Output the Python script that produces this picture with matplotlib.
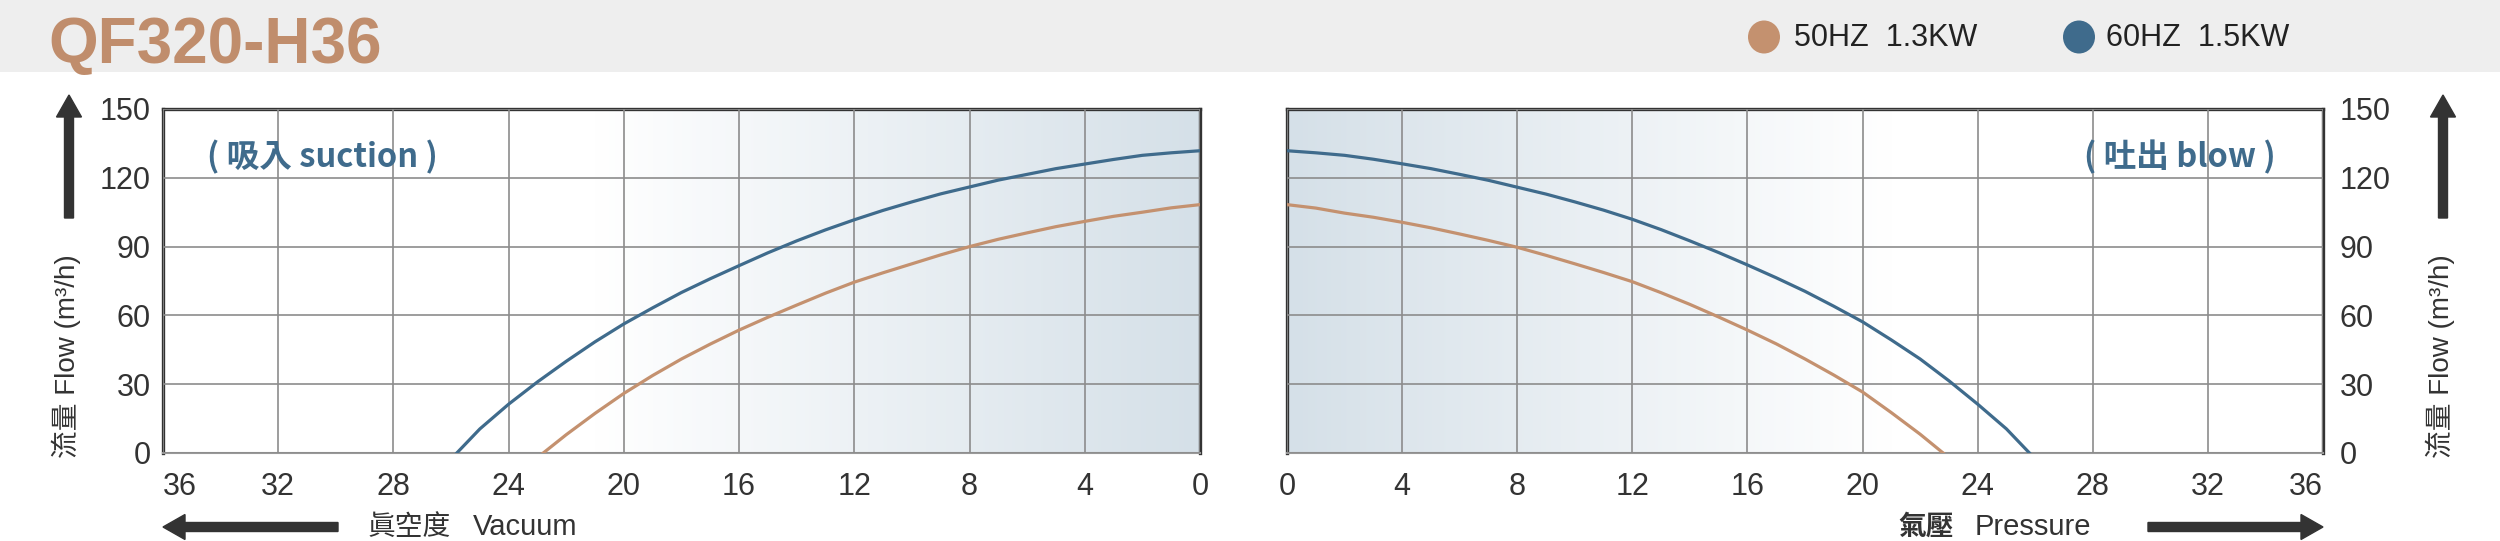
import matplotlib
matplotlib.use('Agg')
import matplotlib.pyplot as plt
import numpy as np
from matplotlib.patches import FancyArrow, Ellipse, Rectangle
from matplotlib.transforms import IdentityTransform

# ---- data ----
# suction side (vacuum, plotted right-to-left)
vac_60 = [0, 1, 2, 3, 4, 5, 6, 7, 8, 9, 10, 11, 12, 13, 14, 15, 16, 17, 18, 19, 20,
          21, 22, 23, 24, 25, 25.8]
suction_60 = [131.8, 130.9, 129.8, 128, 126, 124, 121.5, 119, 116, 113, 109.5, 105.8, 101.7,
              97.3, 92.5, 87.3, 81.7, 76, 70, 63.3, 56.3, 48.5, 40, 31, 21.3, 10.5, 0]
vac_50 = [0, 1, 2, 3, 4, 5, 6, 7, 8, 9, 10, 11, 12, 13, 14, 15, 16, 17, 18, 19, 20,
          21, 22, 22.8]
suction_50 = [108.3, 106.9, 105, 103.2, 101, 98.7, 96, 93.2, 90, 86.4, 82.5, 78.6, 74.5, 69.7,
              64.5, 59.2, 53.6, 47.5, 41, 33.8, 26, 17.3, 8, 0]

# blow side (pressure)
pres_60 = [0, 1, 2, 3, 4, 5, 6, 7, 8, 9, 10, 11, 12, 13, 14, 15, 16, 17, 18, 19, 20,
           21, 22, 23, 24, 25, 25.8]
blow_60 = [131.8, 130.9, 129.8, 128.1, 126.1, 124, 121.5, 118.9, 115.9, 112.9, 109.5, 105.9,
           101.9, 97.4, 92.5, 87.4, 82, 76.4, 70.5, 64, 57.2, 49.3, 41, 31.5, 21.3, 10.5, 0]
pres_50 = [0, 1, 2, 3, 4, 5, 6, 7, 8, 9, 10, 11, 12, 13, 14, 15, 16, 17, 18, 19, 20,
           21, 22, 22.8]
blow_50 = [108.3, 106.8, 104.6, 102.8, 100.6, 98.2, 95.5, 92.7, 89.7, 86.2, 82.5, 78.7,
           74.7, 69.9, 64.8, 59.3, 53.6, 47.6, 41, 34, 26.6, 17.6, 8.2, 0]

x_ticks = [0, 4, 8, 12, 16, 20, 24, 28, 32, 36]
y_ticks = [0, 30, 60, 90, 120, 150]
series_names = ['50HZ  1.3KW', '60HZ  1.5KW']

BLUE = '#3f6b8c'
BROWN = '#c4916f'
DARK = '#333333'
GRID = '#8c8c8c'

W, H = 2500, 541
plt.rcParams['font.family'] = ['Liberation Sans', 'Noto Sans CJK TC', 'DejaVu Sans']
plt.rcParams['text.color'] = '#333333'

fig = plt.figure(figsize=(W / 100, H / 100), dpi=100)


def fx(px):
    return px / W


def fy(py):
    return 1 - py / H


# title band
fig.add_artist(Rectangle((0, fy(72)), 1, 72 / H, transform=fig.transFigure,
                         facecolor='#eeeeee', edgecolor='none', zorder=0))
fig.text(fx(48), fy(46), 'QF320-H36', fontsize=46, fontweight='bold',
         color='#c08d6c', va='center', ha='left')

# legend
for cx, tx, col, name in zip([1764, 2079], [1794, 2106], [BROWN, BLUE], series_names):
    fig.add_artist(Ellipse((cx, H - 37), 32, 33, transform=IdentityTransform(),
                           facecolor=col, edgecolor='none'))
    fig.text(fx(tx), fy(38), name, fontsize=22, color='#222222',
             va='center', ha='left')

# background gradient (white -> pale blue toward 0)
xs = np.linspace(0, 36, 400)
t = np.clip((21 - xs) / 21, 0, 1)
c_end = np.array([213, 224, 232]) / 255
grad = (1 - t)[:, None] * 1.0 + t[:, None] * c_end[None, :]
grad = grad[None, :, :]


def style_axes(ax, side):
    ax.imshow(grad, extent=[0, 36, 0, 150], aspect='auto', origin='lower', zorder=0)
    ax.set_ylim(0, 150)
    ax.set_xticks(x_ticks)
    ax.set_yticks(y_ticks)
    ax.grid(True, color=GRID, lw=1.2, zorder=1)
    ax.set_axisbelow(False)
    for s in ['left', 'right', 'top']:
        ax.spines[s].set_color(DARK)
        ax.spines[s].set_linewidth(2.4)
    ax.spines['bottom'].set_color('#999999')
    ax.spines['bottom'].set_linewidth(1.5)
    ax.tick_params(length=0, labelsize=22, colors='#333333')
    ax.tick_params(axis='x', pad=14)
    if side == 'left':
        ax.tick_params(axis='y', pad=9)
    else:
        ax.yaxis.tick_right()
        ax.tick_params(axis='y', pad=12)


ax1 = fig.add_axes([fx(163), fy(453), fx(1037), 344 / H])
ax1.set_xlim(36, 0)
style_axes(ax1, 'left')
ax1.plot(vac_60, suction_60, color=BLUE, lw=2.3, zorder=3)
ax1.plot(vac_50, suction_50, color=BROWN, lw=2.3, zorder=3)
ax1.get_xticklabels()[-1].set_horizontalalignment('left')
ax1.text(0.0425, 0.86, '( 吸入 suction )', transform=ax1.transAxes, family='Noto Sans CJK TC',
         fontsize=23.5, fontweight='bold', color=BLUE, va='center', ha='left', zorder=4)

ax2 = fig.add_axes([fx(1287), fy(453), fx(1036), 344 / H])
ax2.set_xlim(0, 36)
style_axes(ax2, 'right')
ax2.plot(pres_60, blow_60, color=BLUE, lw=2.3, zorder=3)
ax2.plot(pres_50, blow_50, color=BROWN, lw=2.3, zorder=3)
ax2.get_xticklabels()[-1].set_horizontalalignment('right')
ax2.text(0.954, 0.86, '( 吐出 blow )', transform=ax2.transAxes, family='Noto Sans CJK TC',
         fontsize=23.5, fontweight='bold', color=BLUE, va='center', ha='right', zorder=4)

# y axis labels
ylab = '流量 Flow (m³/h)'
fig.text(fx(66), fy(356), ylab, rotation=90, fontsize=20, va='center', ha='center')
fig.text(fx(2440), fy(356), ylab, rotation=90, fontsize=20, va='center', ha='center')

# x axis labels
fig.text(fx(368), fy(527), '眞空度', family='Noto Sans CJK TC', fontsize=20, va='center', ha='left')
fig.text(fx(473), fy(527), 'Vacuum', fontsize=21, va='center', ha='left')
fig.text(fx(1898), fy(527), '氣壓', family='Noto Sans CJK TC', fontweight='bold',
         fontsize=20, va='center', ha='left')
fig.text(fx(1975), fy(527), 'Pressure', fontsize=21, va='center', ha='left')

# direction arrows
arrow_kw = dict(width=9, head_width=25, head_length=22, length_includes_head=True,
                color=DARK, transform=IdentityTransform())
fig.add_artist(FancyArrow(69, H - 218, 0, 123, **arrow_kw))
fig.add_artist(FancyArrow(2443, H - 218, 0, 123, **arrow_kw))
fig.add_artist(FancyArrow(338, H - 527, -175, 0, **arrow_kw))
fig.add_artist(FancyArrow(2148, H - 527, 175, 0, **arrow_kw))

plt.savefig('out.png', dpi=100)
